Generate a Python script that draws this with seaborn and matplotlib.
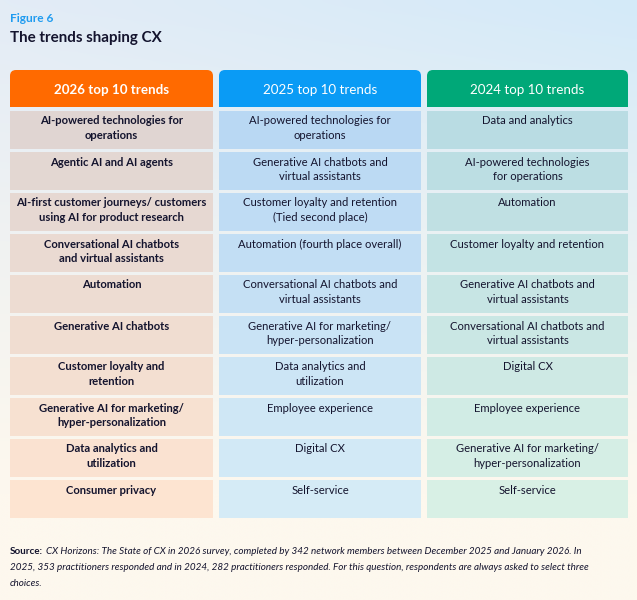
import numpy as np
import matplotlib
matplotlib.use("Agg")
import matplotlib.pyplot as plt
from matplotlib.patches import FancyBboxPatch, Rectangle
from matplotlib.colors import to_rgb
import seaborn as sns

# ---------------- data ----------------
figure_label = "Figure 6"
title = "The trends shaping CX"
headers = ["2026 top 10 trends", "2025 top 10 trends", "2024 top 10 trends"]
trends_2026 = [
    "AI-powered technologies for\noperations",
    "Agentic AI and AI agents",
    "AI-first customer journeys/ customers\nusing AI for product research",
    "Conversational AI chatbots\nand virtual assistants",
    "Automation",
    "Generative AI chatbots",
    "Customer loyalty and\nretention",
    "Generative AI for marketing/\nhyper-personalization",
    "Data analytics and\nutilization",
    "Consumer privacy",
]
trends_2025 = [
    "AI-powered technologies for\noperations",
    "Generative AI chatbots and\nvirtual assistants",
    "Customer loyalty and retention\n(Tied second place)",
    "Automation (fourth place overall)",
    "Conversational AI chatbots and\nvirtual assistants",
    "Generative AI for marketing/\nhyper-personalization",
    "Data analytics and\nutilization",
    "Employee experience",
    "Digital CX",
    "Self-service",
]
trends_2024 = [
    "Data and analytics",
    "AI-powered technologies\nfor operations",
    "Automation",
    "Customer loyalty and retention",
    "Generative AI chatbots and\nvirtual assistants",
    "Conversational AI chatbots and\nvirtual assistants",
    "Digital CX",
    "Employee experience",
    "Generative AI for marketing/\nhyper-personalization",
    "Self-service",
]
source_label = "Source:"
source_lines = [
    "CX Horizons: The State of CX in 2026 survey, completed by 342 network members between December 2025 and January 2026. In",
    "2025, 353 practitioners responded and in 2024, 282 practitioners responded. For this question, respondents are always asked to select three",
    "choices.",
]

# ---------------- style ----------------
sns.set_theme(style="white")
FONT = ["Lato", "DejaVu Sans"]
plt.rcParams["font.family"] = FONT

header_colors = ["#ff6a00", "#0a9bf5", "#00a878"]
cell_top = ["#e0d5d2", "#b9d8f3", "#b9dce3"]
cell_bot = ["#fde4d1", "#d5ebf6", "#d8f0e5"]
text_color = "#14142e"

W, H = 637, 600
fig = plt.figure(figsize=(W / 100, H / 100), dpi=100)
ax = fig.add_axes([0, 0, 1, 1])
ax.set_xlim(0, W)
ax.set_ylim(H, 0)
ax.axis("off")

# background gradient
ny, nx = 60, 60
yy, xx = np.mgrid[0:1:ny * 1j, 0:1:nx * 1j]
c_tl = np.array(to_rgb("#e3ecf6"))
c_tr = np.array(to_rgb("#d4eaf9"))
c_b = np.array(to_rgb("#fdf8ee"))
top = c_tl[None, None, :] * (1 - xx[..., None]) + c_tr[None, None, :] * xx[..., None]
t = np.clip(yy[..., None] * 1.25, 0, 1)
bg = top * (1 - t) + c_b[None, None, :] * t
ax.imshow(bg, extent=[0, W, H, 0], aspect="auto", zorder=0, interpolation="bicubic")

# text header
ax.text(10, 19, figure_label, color="#1e9bf0", fontsize=8.6, fontweight="bold",
        va="center", ha="left")
ax.text(10, 38, title, color=text_color, fontsize=10.9, fontweight="bold",
        va="center", ha="left")

col_left = [10, 219, 427]
col_w = [203, 202, 201]
head_top, head_h = 70, 37
row_top0, row_pitch, row_h = 111, 41, 38

columns = [trends_2026, trends_2025, trends_2024]
n = len(trends_2026)

for j, (hdr, vals) in enumerate(zip(headers, columns)):
    x0, w = col_left[j], col_w[j]
    # header with rounded top corners
    ax.add_patch(FancyBboxPatch((x0, head_top), w, head_h,
                                boxstyle="round,pad=0,rounding_size=6",
                                facecolor=header_colors[j], edgecolor="none", zorder=2))
    ax.add_patch(Rectangle((x0, head_top + head_h / 2), w, head_h / 2,
                           facecolor=header_colors[j], edgecolor="none", zorder=2))
    ax.text(x0 + w / 2, head_top + head_h / 2 + 1, hdr, color="white", fontsize=9.6,
            fontweight="bold" if j == 0 else "normal", ha="center", va="center", zorder=3)
    ct, cb = np.array(to_rgb(cell_top[j])), np.array(to_rgb(cell_bot[j]))
    for i, label in enumerate(vals):
        f = i / (n - 1)
        col = ct * (1 - f) + cb * f
        y0 = row_top0 + i * row_pitch
        ax.add_patch(Rectangle((x0, y0), w, row_h, facecolor=col, edgecolor="none", zorder=2))
        ax.text(x0 + w / 2, y0 + 4.5, label, color=text_color, fontsize=8.1,
                fontweight="bold" if j == 0 else "normal",
                ha="center", va="top", linespacing=1.35, zorder=3)

# source note
src_fs = 7.1
lbl = ax.text(10, 551, source_label, color=text_color, fontsize=src_fs, fontweight="bold",
              ha="left", va="center")
fig.canvas.draw()
bb = lbl.get_window_extent().transformed(ax.transData.inverted())
x_after = max(bb.x0, bb.x1) + 3
ax.text(x_after, 551, source_lines[0], color=text_color, fontsize=src_fs, style="italic",
        ha="left", va="center")
ax.text(10, 567, source_lines[1], color=text_color, fontsize=src_fs, style="italic",
        ha="left", va="center")
ax.text(10, 583, source_lines[2], color=text_color, fontsize=src_fs, style="italic",
        ha="left", va="center")

fig.savefig("out.png", dpi=100)
